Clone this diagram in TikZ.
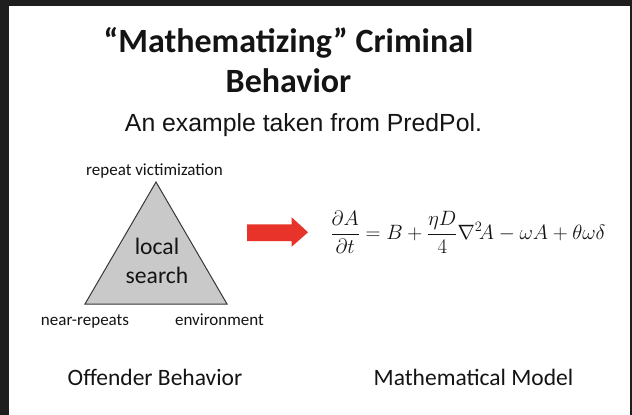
\documentclass[tikz,border=0pt]{standalone}
\usepackage{amsmath}
\usepackage{fontspec}
\setmainfont{Carlito}
\newfontfamily\arialfont{Liberation Sans}
\definecolor{frame}{HTML}{1E1E1E}
\definecolor{arrowred}{HTML}{E8332A}
\definecolor{trigray}{HTML}{C9C9C9}
\definecolor{ink}{HTML}{141414}
\tikzset{
  title/.style={anchor=base, inner sep=0pt, text=ink, font=\bfseries\fontsize{34}{40}\selectfont},
  subtitle/.style={anchor=base, inner sep=0pt, text=ink, font=\arialfont\fontsize{24.8}{30}\selectfont},
  corner/.style={anchor=base, inner sep=0pt, text=ink, font=\fontsize{17}{20}\selectfont},
  inner/.style={anchor=base, inner sep=0pt, text=ink, font=\fontsize{23.6}{29}\selectfont},
  caption/.style={anchor=base, inner sep=0pt, text=ink, font=\fontsize{23.5}{28}\selectfont},
}
\begin{document}
\begin{tikzpicture}[x=1pt,y=-1pt]
\useasboundingbox (0,0) rectangle (632,415);
\fill[frame] (0,0) rectangle (632,415);
\fill[white] (9,6) rectangle (630,415);
% titles
\node[title] (t1) at (288.5,52) {“Mathematizing” Criminal};
\node[title] (t2) at (288.5,92) {Behavior};
\node[subtitle] (sub) at (303.5,131) {An example taken from PredPol.};
% triangle
\coordinate (apex) at (156,182);
\coordinate (bl) at (85,304);
\coordinate (br) at (227,304);
\filldraw[fill=trigray, draw=ink!85, line width=1pt, line join=miter] (apex) -- (bl) -- (br) -- cycle;
\node[corner] (rv) at (154.5,175) {repeat victimization};
\node[corner] (nr) at (85,325) {near-repeats};
\node[corner] (env) at (219.5,325) {environment};
\node[inner] (loc) at (157,254) {local};
\node[inner] (sea) at (157,283) {search};
% arrow
\fill[arrowred] (247,224.3) -- (291.7,224.3) -- (291.7,217.3) -- (308,232.3) -- (291.7,246.7) -- (291.7,241) -- (247,241) -- cycle;
% equation
\node[inner sep=0pt, text=ink, font=\fontsize{19.2}{24}\selectfont] (eq) at (468,232)
  {$\dfrac{\partial A}{\partial t} = B + \dfrac{\eta D}{4}\nabla^{2}\! A - \omega A + \theta\omega\delta$};
% captions
\node[caption] (ob) at (155,385) {Offender Behavior};
\node[caption] (mm) at (473.5,385) {Mathematical Model};
\end{tikzpicture}
\end{document}
